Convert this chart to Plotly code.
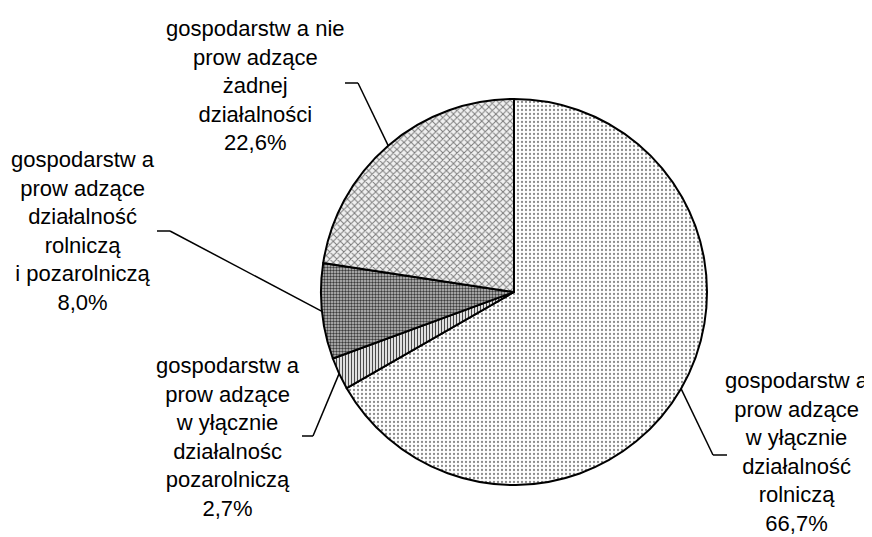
import math
import plotly.graph_objects as go

W, H = 872, 537
# the page body has an 8px margin, so everything is laid out 8px up/left
OFF = 8

labels = [
    "gospodarstw a<br>prow adzące<br>w yłącznie<br>działalność<br>rolniczą",
    "gospodarstw a<br>prow adzące<br>w yłącznie<br>działalnośc<br>pozarolniczą",
    "gospodarstw a<br>prow adzące<br>działalność<br>rolniczą<br>i pozarolniczą",
    "gospodarstw a nie<br>prow adzące<br>żadnej<br>działalności",
]
values = [66.7, 2.7, 8.0, 22.6]
value_text = ["66,7%", "2,7%", "8,0%", "22,6%"]

# label block centres and leader elbows, in screen pixels
label_pos = [(797, 452), (228, 437), (83, 231), (255, 85)]
elbows = [[(713, 455), (727, 455)],
          [(313, 436), (302, 436)],
          [(170, 231), (157, 231)],
          [(358, 83), (345, 83)]]

patterns = [
    dict(shape=".", fgcolor="#8c8c8c", bgcolor="white", size=4, solidity=0.25),
    dict(shape="|", fgcolor="#4a4a4a", bgcolor="white", size=3, solidity=0.45),
    dict(shape=".", fgcolor="#3c3c3c", bgcolor="#c4c4c4", size=3, solidity=0.5),
    dict(shape="x", fgcolor="#7a7a7a", bgcolor="#f0f0f0", size=5, solidity=0.35),
]

cx, cy, r = 514 - OFF, 292 - OFF, 193


def px(x, y):
    return (x - OFF) / W, 1 - (y - OFF) / H


fig = go.Figure(go.Pie(
    values=values,
    sort=False,
    direction="clockwise",
    rotation=0,
    textinfo="none",
    hoverinfo="skip",
    marker=dict(
        colors=["white"] * 4,
        line=dict(color="black", width=2),
        pattern=dict(
            shape=[p["shape"] for p in patterns],
            fgcolor=[p["fgcolor"] for p in patterns],
            bgcolor=[p["bgcolor"] for p in patterns],
            size=[p["size"] for p in patterns],
            solidity=[p["solidity"] for p in patterns],
            fillmode="replace",
        ),
    ),
    domain=dict(x=[(cx - r) / W, (cx + r) / W], y=[1 - (cy + r) / H, 1 - (cy - r) / H]),
))

total = sum(values)
cum = 0
shapes = []
annotations = []
for i, v in enumerate(values):
    mid = (cum + v / 2) / total * 2 * math.pi
    cum += v
    # start of the leader on the rim, in screen pixels
    sx = cx + OFF + r * math.sin(mid)
    sy = cy + OFF - r * math.cos(mid)
    pts = [(sx, sy)] + elbows[i]
    for (x0, y0), (x1, y1) in zip(pts[:-1], pts[1:]):
        a0, b0 = px(x0, y0)
        a1, b1 = px(x1, y1)
        shapes.append(dict(type="line", xref="paper", yref="paper",
                           x0=a0, y0=b0, x1=a1, y1=b1,
                           line=dict(color="black", width=1.5)))
    lx, ly = px(*label_pos[i])
    annotations.append(dict(
        x=lx, y=ly, xref="paper", yref="paper",
        text=labels[i] + "<br>" + value_text[i],
        showarrow=False, xanchor="center", yanchor="middle", align="center",
        font=dict(family="Liberation Sans, Arial", size=22, color="black"),
    ))

fig.update_layout(
    width=W, height=H,
    margin=dict(l=0, r=0, t=0, b=0),
    paper_bgcolor="white",
    plot_bgcolor="white",
    showlegend=False,
    shapes=shapes,
    annotations=annotations,
)

fig.write_html("out.html")
